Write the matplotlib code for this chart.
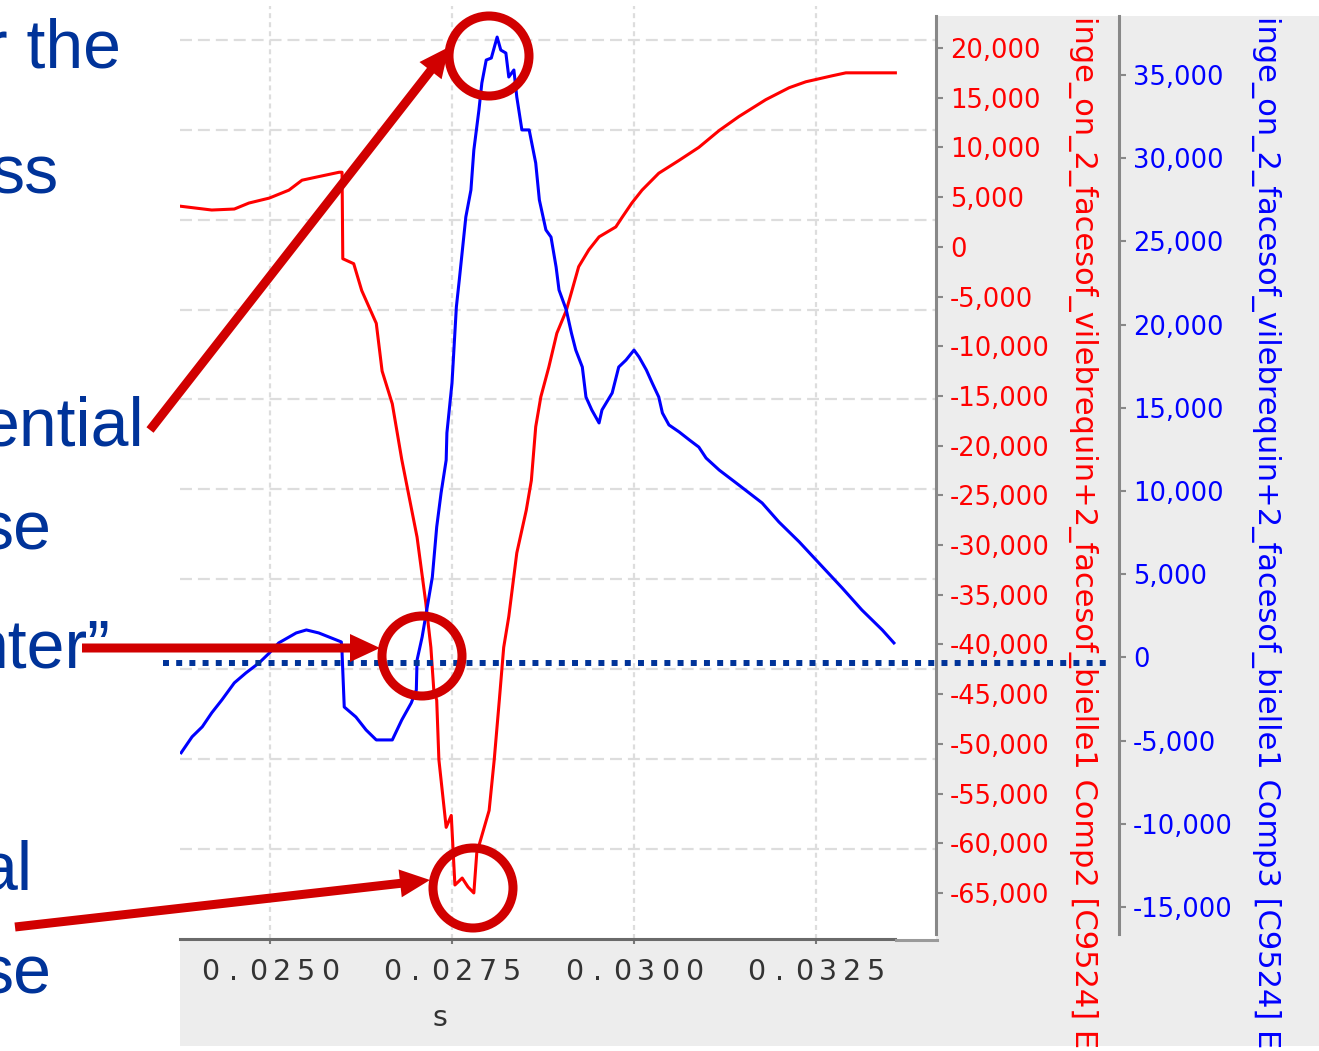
import numpy as np
import matplotlib
matplotlib.use('Agg')
import matplotlib.pyplot as plt
from matplotlib import transforms
from matplotlib.patches import Rectangle, Circle, FancyArrow
from matplotlib.lines import Line2D
from matplotlib.ticker import FuncFormatter

plt.rcParams['font.family'] = 'DejaVu Sans'
plt.rcParams['axes.unicode_minus'] = False
plt.rcParams['lines.scale_dashes'] = False

## Data: joint force components vs time (s)
t_comp2 = [0.02375, 0.02420, 0.02451, 0.02471, 0.02499, 0.02526, 0.02544, 0.02563, 0.02595, 0.02599,
           0.02600, 0.02615, 0.02626, 0.02646, 0.02654, 0.02668, 0.02681, 0.02702, 0.02714, 0.02721,
           0.02725, 0.02729, 0.02732, 0.02742, 0.02749, 0.02754, 0.02764, 0.02772, 0.02780, 0.02784,
           0.02801, 0.02808, 0.02815, 0.02821, 0.02828, 0.02839, 0.02852, 0.02859, 0.02865, 0.02872,
           0.02883, 0.02894, 0.02907, 0.02914, 0.02924, 0.02938, 0.02952, 0.02975, 0.02984, 0.02997,
           0.03011, 0.03034, 0.03062, 0.03089, 0.03117, 0.03144, 0.03181, 0.03213, 0.03236, 0.03272,
           0.03291, 0.03359]
comp2 = [4100, 3700, 3800, 4400, 4900, 5700, 6700, 7000, 7500, 7500,
         -1200, -1700, -4400, -7700, -12500, -15800, -21400, -29200, -35800, -40300,
         -44600, -45600, -51600, -58400, -57200, -64200, -63500, -64400, -65000, -61000,
         -56700, -51600, -45600, -40300, -37200, -30800, -26500, -23500, -18100, -15100,
         -12100, -8700, -6400, -4600, -2000, -300, 1000, 2000, 3000, 4400,
         5700, 7400, 8700, 10000, 11700, 13100, 14800, 16000, 16600, 17200,
         17500, 17500]

t_comp3 = [0.02378, 0.02393, 0.02407, 0.02420, 0.02434, 0.02451, 0.02467, 0.02485, 0.02499, 0.02512,
           0.02536, 0.02550, 0.02567, 0.02598, 0.02599, 0.02602, 0.02618, 0.02632, 0.02646, 0.02668,
           0.02681, 0.02694, 0.02701, 0.02702, 0.02709, 0.02716, 0.02723, 0.02729, 0.02735, 0.02742,
           0.02743, 0.02750, 0.02756, 0.02760, 0.02769, 0.02776, 0.02780, 0.02787, 0.02791, 0.02797,
           0.02804, 0.02812, 0.02817, 0.02824, 0.02828, 0.02835, 0.02839, 0.02846, 0.02856, 0.02865,
           0.02870, 0.02879, 0.02886, 0.02893, 0.02897, 0.02907, 0.02914, 0.02920, 0.02929, 0.02934,
           0.02942, 0.02952, 0.02956, 0.02970, 0.02979, 0.02989, 0.03000, 0.03007, 0.03017, 0.03025,
           0.03034, 0.03039, 0.03048, 0.03062, 0.03076, 0.03089, 0.03099, 0.03117, 0.03144, 0.03176,
           0.03199, 0.03227, 0.03254, 0.03286, 0.03313, 0.03341, 0.03357]
comp3 = [-5730, -4770, -4170, -3330, -2550, -1530, -930, -330, 260, 870,
         1470, 1650, 1470, 930, 260, -2980, -3580, -4360, -4960, -4960,
         -3760, -2740, -1960, -160, 1230, 3030, 4830, 7840, 9880, 11860,
         13490, 16490, 21060, 22680, 26470, 28090, 30490, 32900, 34520, 35900,
         36020, 37280, 36500, 36320, 34880, 35300, 33680, 31700, 31700, 29710,
         27490, 25690, 25260, 23460, 22080, 20880, 19500, 18470, 17450, 15650,
         14870, 14090, 14870, 15890, 17450, 17870, 18470, 18050, 17270, 16490,
         15650, 14690, 13970, 13550, 13070, 12640, 11980, 11260, 10360, 9280,
         8140, 6940, 5670, 4170, 2850, 1650, 870]

xticks = [0.0250, 0.0275, 0.0300, 0.0325]
comp2_ticks = list(range(-65000, 20001, 5000))
comp3_ticks = list(range(-15000, 35001, 5000))

label_comp2 = 'inge_on_2_facesof_vilebrequin+2_facesof_bielle1 Comp2 [C9524] E'
label_comp3 = 'inge_on_2_facesof_vilebrequin+2_facesof_bielle1 Comp3 [C9524] E'

## Slide text fragments (right edge, baseline) in pixels
slide_text = [
    ('r the', 121, 67),
    ('ss', 58, 193),
    ('ential', 144, 445),
    ('se', 51, 550),
    ('nter\u201d', 110, 667),
    ('al', 32, 890),
    ('se', 51, 993),
]

RED = '#d10000'
SLIDE_BLUE = '#003399'

W, H = 1319, 1051
fig = plt.figure(figsize=(W / 100, H / 100), dpi=100)
fig.patch.set_facecolor('white')

# pixel coordinates, origin top-left
px = transforms.Affine2D().scale(1 / W, -1 / H).translate(0, 1) + fig.transFigure


def box(x0, y0, x1, y1):
    return [x0 / W, 1 - y1 / H, (x1 - x0) / W, (y1 - y0) / H]


# grey chart panel
fig.add_artist(Rectangle((180, 16), W - 180, 1030, transform=px,
                         facecolor='#ededed', edgecolor='none', zorder=-5))

ax = fig.add_axes(box(180, 6, 936, 939))
ax.set_facecolor('white')
ax.set_xlim(0.023764, 0.034148)
ax.set_ylim(-10.006, 0.378)
ax.set_yticks(np.arange(-9, 1))
ax.set_xticks(xticks)

# Comp2 on red axis
axr = ax.twinx()
axr.set_ylim(-69631, 24223)
axr.plot(t_comp2, comp2, color='#ff0000', lw=2.2)
# Comp3 on blue axis
axb = ax.twinx()
axb.set_ylim(-16923, 39147)
axb.plot(t_comp3, comp3, color='#0000ff', lw=2.2)
axb.spines['right'].set_position(('axes', 939 / 756))

ax.tick_params(axis='y', left=False, right=False, labelleft=False, labelright=False)
ax.tick_params(axis='x', direction='out', length=3.6, width=1.5, color='#777777',
               labelbottom=False)
ax.yaxis.grid(True, color='#dddddd', lw=1.6, linestyle=(0, (8.6, 4.3)))
ax.xaxis.grid(True, color='#dddddd', lw=1.6, linestyle=(0, (3.6, 2.9)))
for side in ['left', 'top', 'right']:
    ax.spines[side].set_visible(False)
ax.spines['bottom'].set_color('#6a6a6a')
ax.spines['bottom'].set_linewidth(2.2)
ax.spines['bottom'].set_bounds(0.023764, 0.033585)
fig.add_artist(Line2D([896, 937], [940, 940], transform=px, color='#9a9a9a', lw=2.2))

# x tick labels, wide letter spacing
pitch = 24
for t in xticks:
    s = '{:.4f}'.format(t)
    n = len(s)
    for i, ch in enumerate(s):
        tr = transforms.offset_copy(ax.get_xaxis_transform(), fig=fig,
                                    x=(i - (n - 1) / 2) * pitch, y=-33, units='dots')
        ax.text(t, 0, ch, transform=tr, ha='center', va='center',
                fontsize=20.5, color='#333333')
fig.text(440, 1018, 's', transform=px, ha='center', va='center', fontsize=20.5, color='#333333')

fmt = FuncFormatter(lambda v, p: '{:,}'.format(int(v)))
for a, ticks, col, bounds in [(axr, comp2_ticks, '#ff0000', (-69132, 23215)),
                              (axb, comp3_ticks, '#0000ff', (-16623, 38546))]:
    for side in ['left', 'top', 'bottom']:
        a.spines[side].set_visible(False)
    a.spines['right'].set_color('#888888')
    a.spines['right'].set_linewidth(2.2)
    a.spines['right'].set_bounds(*bounds)
    a.set_yticks(ticks)
    a.yaxis.set_major_formatter(fmt)
    a.tick_params(axis='y', color='#888888', labelcolor=col, labelsize=18.5,
                  length=5, width=1.5, pad=5)

fig.text(1083, 16, label_comp2, transform=px, rotation=-90, rotation_mode='anchor',
         ha='left', va='center', fontsize=22, color='#ff0000')
fig.text(1266, 16, label_comp3, transform=px, rotation=-90, rotation_mode='anchor',
         ha='left', va='center', fontsize=22, color='#0000ff')

for s, x, y in slide_text:
    fig.text(x, y, s, transform=px, ha='right', va='baseline', fontsize=49,
             color=SLIDE_BLUE, family='Liberation Sans')

# zero reference line
fig.add_artist(Line2D([163, 1108], [663, 663], transform=px, color=SLIDE_BLUE, lw=4.3,
                      linestyle=(0, (4.3, 5.2)), dash_capstyle='butt', zorder=20))

# callouts
for cx, cy in [(489, 56), (422, 656), (473, 888)]:
    fig.add_artist(Circle((cx, cy), 40, transform=px, fill=False, edgecolor=RED,
                          lw=6.5, zorder=21))
for x0, y0, x1, y1 in [(150, 430, 449, 47), (82, 648, 380, 648), (15, 927, 430, 880)]:
    fig.add_artist(FancyArrow(x0, y0, x1 - x0, y1 - y0, width=9, head_width=28,
                              head_length=30, length_includes_head=True, transform=px,
                              facecolor=RED, edgecolor='none', zorder=22))

fig.savefig('out.png', dpi=100)
